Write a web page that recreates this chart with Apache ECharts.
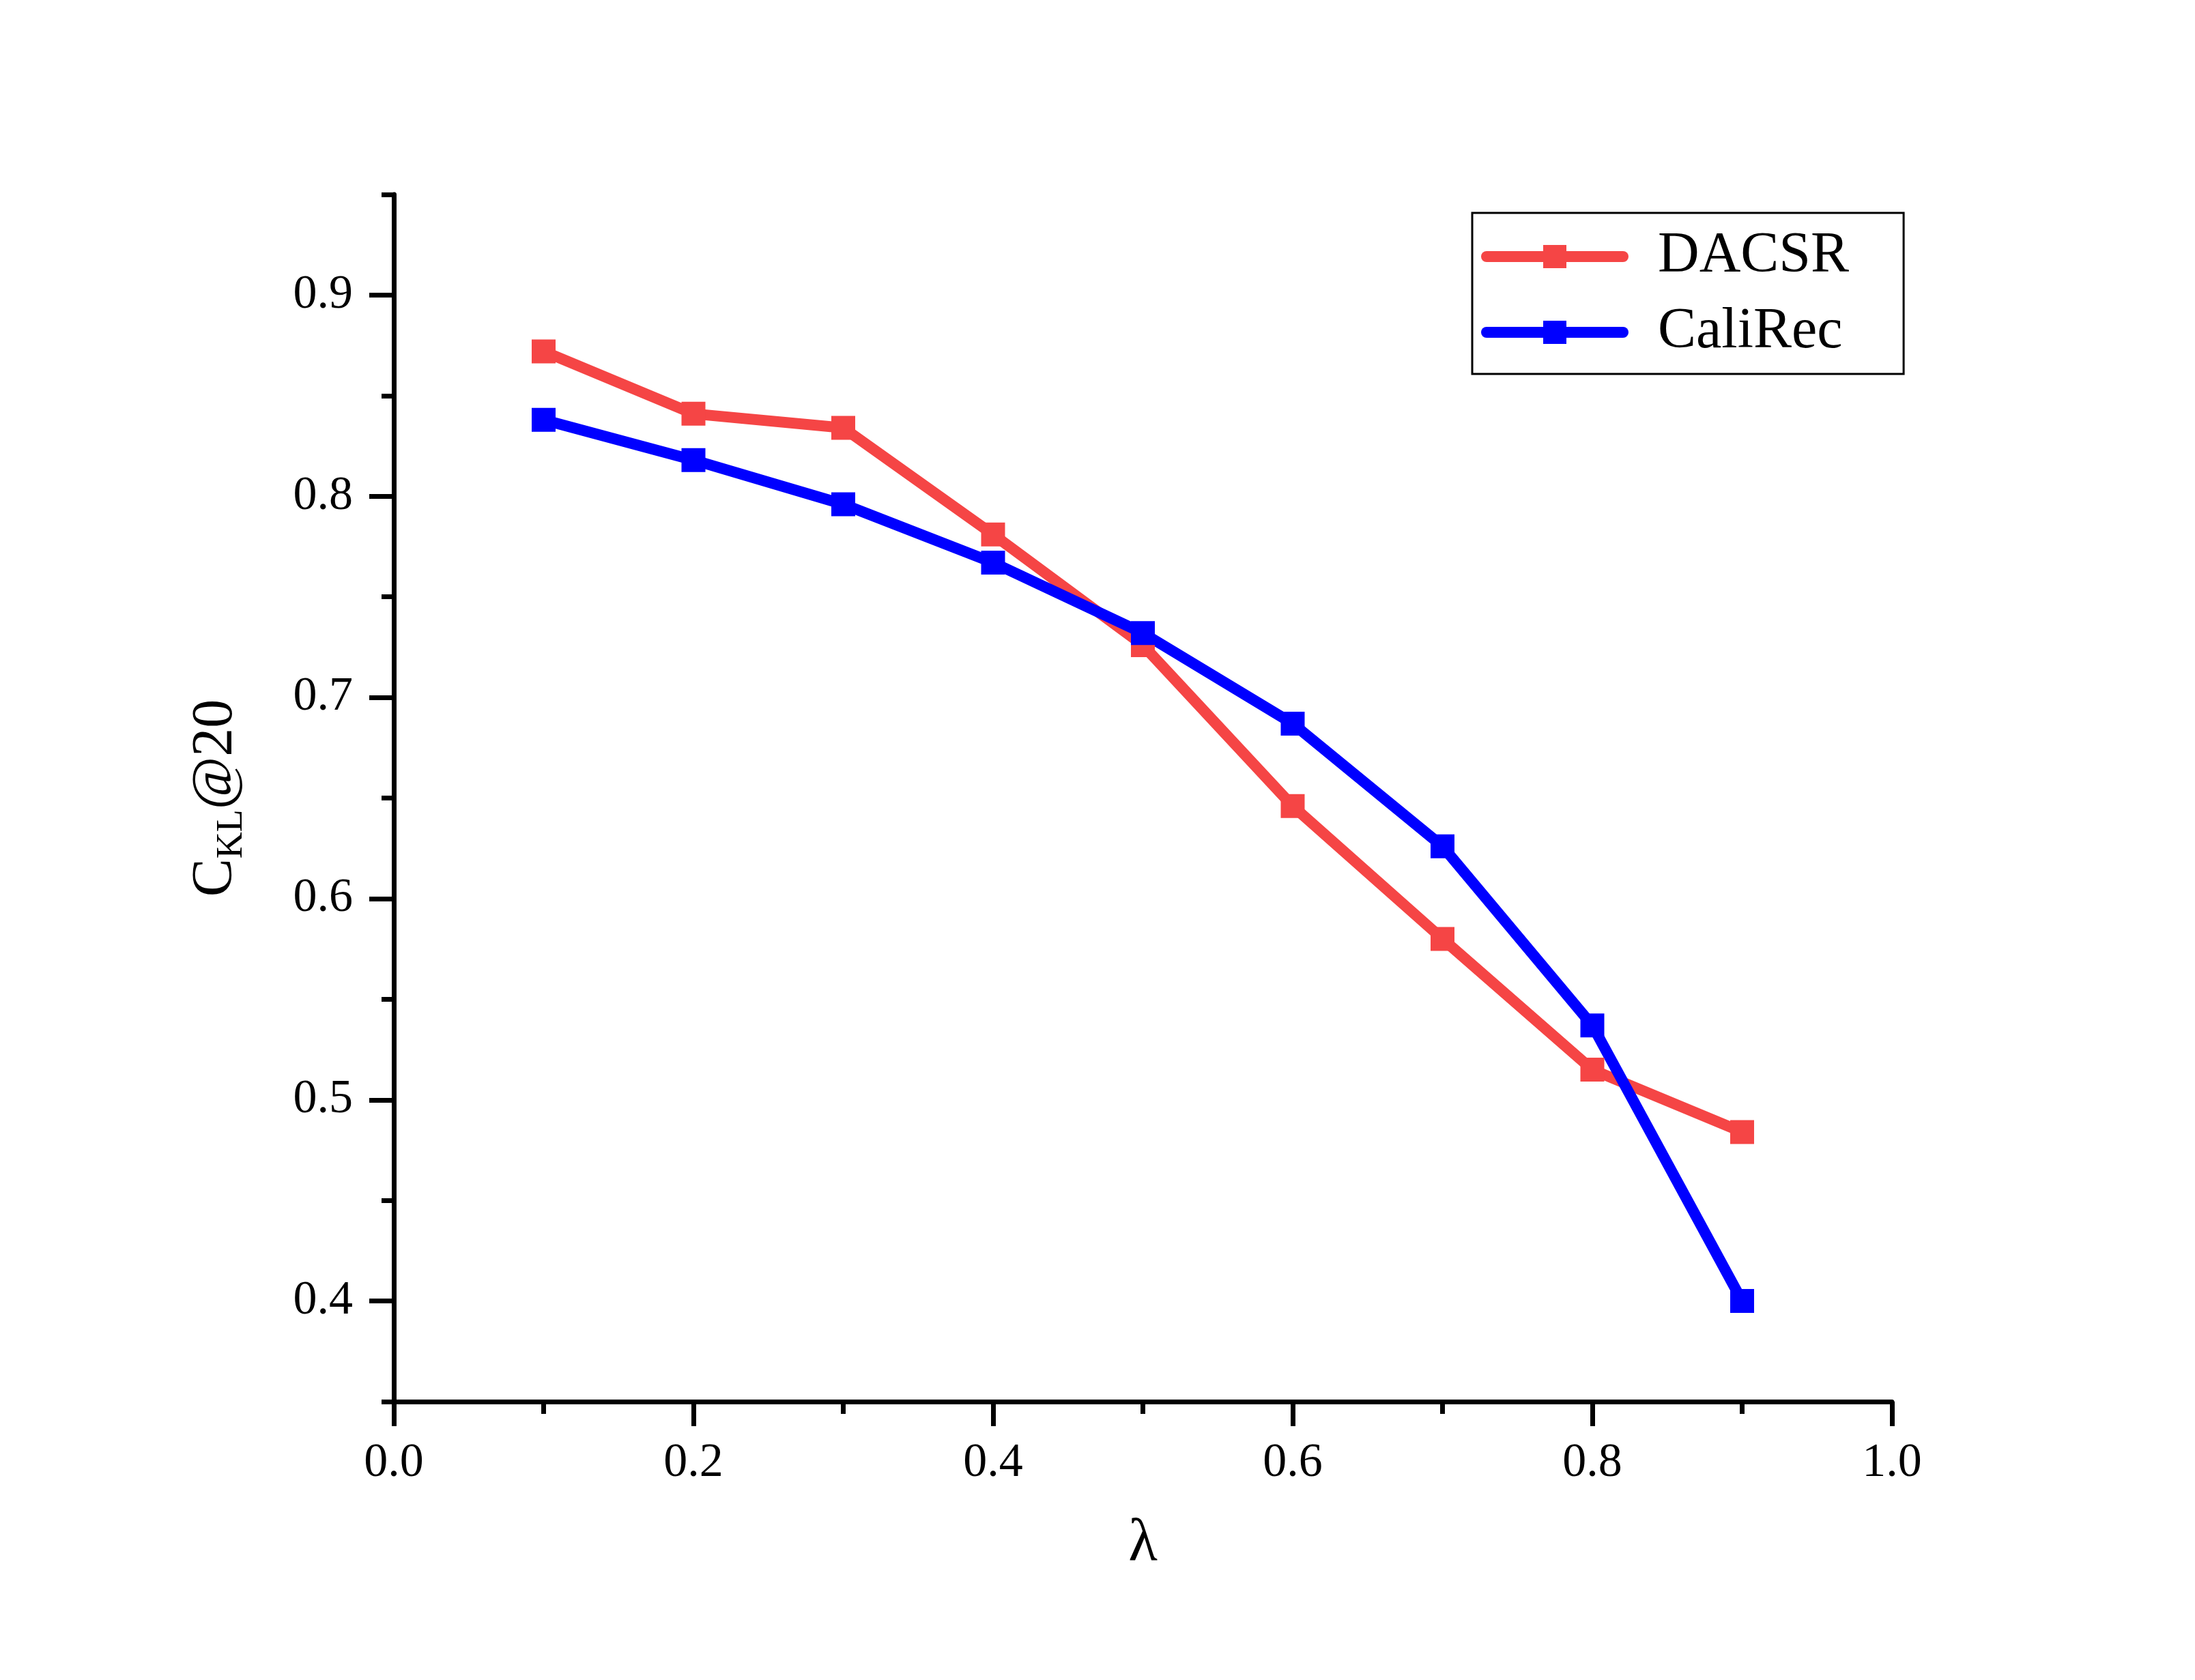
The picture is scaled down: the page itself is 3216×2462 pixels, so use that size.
<!DOCTYPE html>
<html>
<head>
<meta charset="utf-8">
<script src="https://cdn.jsdelivr.net/npm/echarts@6/dist/echarts.min.js"></script>
<style>
  html, body { margin: 0; padding: 0; background: #fff; }
  #main { width: 3216px; height: 2462px; }
</style>
</head>
<body>
<div id="main"></div>
<script>
// data
var lambdas = [0.1, 0.2, 0.3, 0.4, 0.5, 0.6, 0.7, 0.8, 0.9];
var dacsr   = [0.872, 0.841, 0.834, 0.781, 0.726, 0.646, 0.580, 0.515, 0.484];
var calirec = [0.838, 0.818, 0.796, 0.767, 0.732, 0.687, 0.626, 0.537, 0.400];
var yMajorTicks = [0.4, 0.5, 0.6, 0.7, 0.8, 0.9];
var seriesNames = ['DACSR', 'CaliRec'];

var FONT = '"Liberation Serif", "DejaVu Serif", serif';
var axisLine = { lineStyle: { color: '#000', width: 7 } };

function pairs(ys) {
    return lambdas.map(function (x, i) { return [x, ys[i]]; });
}

var myChart = echarts.init(document.getElementById('main'));
var option = {
    backgroundColor: '#fff',
    animation: false,
    grid: { left: 577, right: 444, top: 285, bottom: 408, containLabel: false },
    legend: {
        data: seriesNames,
        orient: 'vertical',
        left: 2157,
        top: 312,
        itemWidth: 200,
        itemHeight: 42.5,
        itemGap: 21,
        padding: [19, 80, 16, 13],
        borderColor: '#000',
        borderWidth: 3,
        backgroundColor: '#fff',
        lineStyle: { width: 16, cap: 'round' },
        textStyle: { fontFamily: FONT, fontSize: 84, color: '#000', lineHeight: 90, padding: [0, 0, 0, 46] }
    },
    xAxis: {
        type: 'value',
        min: 0,
        max: 1,
        interval: 0.2,
        name: 'λ',
        nameLocation: 'middle',
        nameGap: 166,
        nameTextStyle: { fontFamily: FONT, fontSize: 88, color: '#000' },
        axisLine: axisLine,
        axisTick: { show: true, length: 36, lineStyle: { color: '#000', width: 7 } },
        minorTick: { show: true, splitNumber: 2, length: 18, lineStyle: { color: '#000', width: 7 } },
        axisLabel: {
            margin: 56,
            fontFamily: FONT, fontSize: 70, color: '#000',
            formatter: function (v) { return v.toFixed(1); }
        },
        splitLine: { show: false },
        minorSplitLine: { show: false }
    },
    yAxis: [{
        type: 'value',
        min: 0.35,
        max: 0.95,
        interval: 0.05,
        name: '{c|C}{s|KL}{c|@20}',
        nameLocation: 'middle',
        nameGap: 210,
        nameTextStyle: {
            color: '#000',
            rich: {
                c: { fontFamily: FONT, fontSize: 84, lineHeight: 100, color: '#000' },
                s: { fontFamily: FONT, fontSize: 54, lineHeight: 50, verticalAlign: 'bottom', color: '#000' }
            }
        },
        axisLine: axisLine,
        axisTick: { show: true, length: 18, lineStyle: { color: '#000', width: 7 } },
        axisLabel: {
            margin: 60,
            customValues: yMajorTicks,
            fontFamily: FONT, fontSize: 70, color: '#000',
            formatter: function (v) {
                return Math.round(v * 100) % 10 === 0 ? v.toFixed(1) : '';
            }
        },
        splitLine: { show: false }
    }, {
        // long ticks on the labelled values
        type: 'value',
        position: 'left',
        min: 0.35,
        max: 0.95,
        interval: 0.05,
        axisLine: { show: false },
        axisTick: { show: true, length: 36, customValues: yMajorTicks, lineStyle: { color: '#000', width: 7 } },
        axisLabel: { show: false },
        splitLine: { show: false }
    }],
    series: [{
        name: seriesNames[0],
        type: 'line',
        data: pairs(dacsr),
        symbol: 'rect',
        symbolSize: 35,
        itemStyle: { color: '#F54545' },
        lineStyle: { color: '#F54545', width: 16, cap: 'round' }
    }, {
        name: seriesNames[1],
        type: 'line',
        data: pairs(calirec),
        symbol: 'rect',
        symbolSize: 35,
        itemStyle: { color: '#0000FF' },
        lineStyle: { color: '#0000FF', width: 16, cap: 'round' }
    }]
};
myChart.setOption(option);
</script>
</body>
</html>
